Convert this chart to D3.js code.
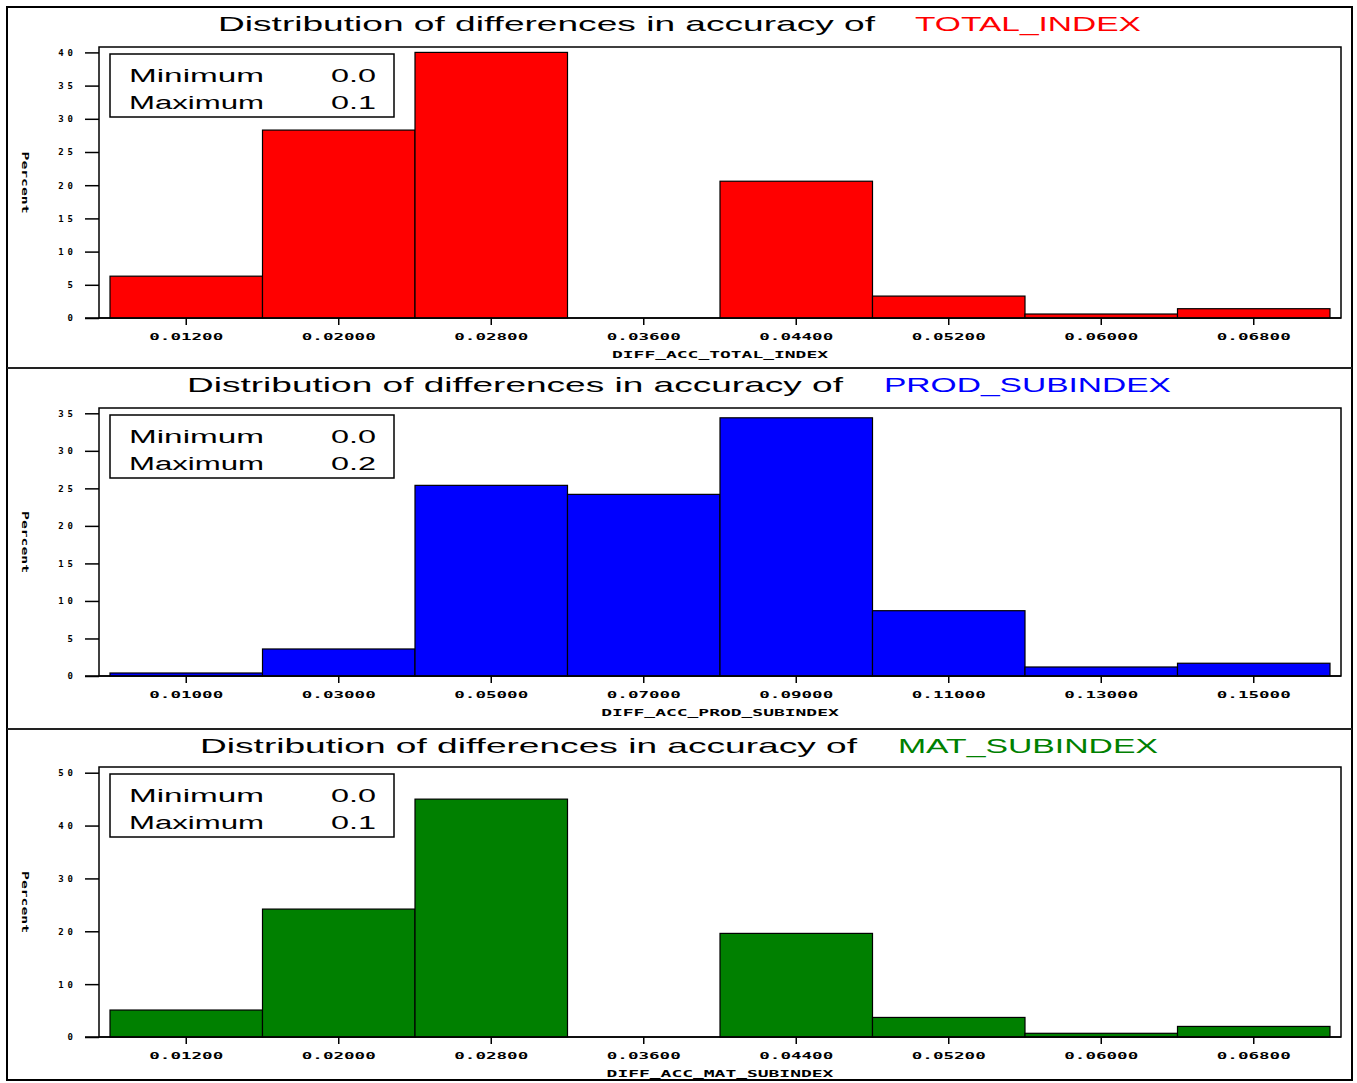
<!DOCTYPE html>
<html>
<head>
<meta charset="utf-8">
<script src="https://cdn.jsdelivr.net/npm/d3@7"></script>
<style>
  html, body { margin: 0; padding: 0; background: #fff; }
  svg { display: block; }
</style>
</head>
<body>
<svg id="chart" width="1357" height="1083"></svg>
<script>
// Histogram bin midpoints (x tick labels) for each variable
const totalMidpoints = ["0.01200", "0.02000", "0.02800", "0.03600", "0.04400", "0.05200", "0.06000", "0.06800"];
const prodMidpoints  = ["0.01000", "0.03000", "0.05000", "0.07000", "0.09000", "0.11000", "0.13000", "0.15000"];
const matMidpoints   = ["0.01200", "0.02000", "0.02800", "0.03600", "0.04400", "0.05200", "0.06000", "0.06800"];

// Percent of observations in each bin
const totalPercent = [6.3, 28.3, 40.0, 0, 20.6, 3.3, 0.6, 1.4];
const prodPercent  = [0.4, 3.6, 25.4, 24.2, 34.4, 8.7, 1.2, 1.7];
const matPercent   = [5.1, 24.2, 45.0, 0, 19.6, 3.7, 0.7, 2.0];

// Y axis ticks
const totalTicks = [0, 5, 10, 15, 20, 25, 30, 35, 40];
const prodTicks  = [0, 5, 10, 15, 20, 25, 30, 35];
const matTicks   = [0, 10, 20, 30, 40, 50];

// Summary statistics shown in the inset box
const totalStats = [["Minimum", "0.0"], ["Maximum", "0.1"]];
const prodStats  = [["Minimum", "0.0"], ["Maximum", "0.2"]];
const matStats   = [["Minimum", "0.0"], ["Maximum", "0.1"]];

const titleText = "Distribution of differences in accuracy of";
const varNames  = ["TOTAL_INDEX", "PROD_SUBINDEX", "MAT_SUBINDEX"];
const axisNames = ["DIFF_ACC_TOTAL_INDEX", "DIFF_ACC_PROD_SUBINDEX", "DIFF_ACC_MAT_SUBINDEX"];

const panels = [
  { mids: totalMidpoints, vals: totalPercent, ticks: totalTicks, stats: totalStats,
    name: varNames[0], axis: axisNames[0], color: "#ff0000",
    frameTop: 47, y0: 318, yTopPx: 52.4,
    titleBase: 31, titleX: [218, 657], nameX: [915, 226] },
  { mids: prodMidpoints, vals: prodPercent, ticks: prodTicks, stats: prodStats,
    name: varNames[1], axis: axisNames[1], color: "#0000ff",
    frameTop: 408, y0: 676, yTopPx: 413.3,
    titleBase: 392, titleX: [187, 656], nameX: [884, 287] },
  { mids: matMidpoints, vals: matPercent, ticks: matTicks, stats: matStats,
    name: varNames[2], axis: axisNames[2], color: "#008000",
    frameTop: 767, y0: 1037, yTopPx: 772.7,
    titleBase: 753, titleX: [200, 657], nameX: [898, 260] }
];

const svg = d3.select("#chart");
const frameL = 99, frameR = 1341, barL = 110, barR = 1330;
const smallFont = "'DejaVu Sans Mono', monospace";
const titleFont = "'Liberation Sans', Arial, sans-serif";

// Outer border and panel separators
svg.append("rect").attr("x", 7).attr("y", 7).attr("width", 1345).attr("height", 1073)
  .attr("fill", "none").attr("stroke", "#000").attr("stroke-width", 2);
[368, 729].forEach(y => svg.append("line").attr("x1", 7).attr("x2", 1352)
  .attr("y1", y).attr("y2", y).attr("stroke", "#222").attr("stroke-width", 2));

panels.forEach(p => {
  const g = svg.append("g");
  const x = d3.scaleBand().domain(p.mids).range([barL, barR]).paddingInner(0).paddingOuter(0);
  const yMax = p.ticks[p.ticks.length - 1];
  const y = d3.scaleLinear().domain([0, yMax]).range([p.y0, p.yTopPx]);

  // Title: black lead-in plus coloured variable name
  g.append("text").attr("x", p.titleX[0]).attr("y", p.titleBase)
    .attr("textLength", p.titleX[1]).attr("lengthAdjust", "spacingAndGlyphs")
    .style("font-family", titleFont).style("font-size", "21px").attr("fill", "#000")
    .text(titleText);
  g.append("text").attr("x", p.nameX[0]).attr("y", p.titleBase)
    .attr("textLength", p.nameX[1]).attr("lengthAdjust", "spacingAndGlyphs")
    .style("font-family", titleFont).style("font-size", "21px").attr("fill", p.color)
    .text(p.name);

  // Plot frame
  g.append("rect").attr("x", frameL).attr("y", p.frameTop)
    .attr("width", frameR - frameL).attr("height", p.y0 - p.frameTop)
    .attr("fill", "none").attr("stroke", "#000").attr("stroke-width", 1.5);

  // Bars
  g.selectAll("rect.bar").data(p.vals.map((v, i) => ({ v, k: p.mids[i] })).filter(d => d.v > 0))
    .join("rect").attr("class", "bar")
    .attr("x", d => x(d.k)).attr("width", x.bandwidth())
    .attr("y", d => y(d.v)).attr("height", d => y(0) - y(d.v))
    .attr("fill", p.color).attr("stroke", "#000").attr("stroke-width", 1.2);

  // Y axis
  const yAxis = d3.axisLeft(y).tickValues(p.ticks).tickSize(14).tickPadding(8)
    .tickFormat(d3.format("d"));
  const ya = g.append("g").attr("transform", `translate(${frameL},0)`).call(yAxis);
  ya.select(".domain").remove();
  ya.selectAll(".tick line").attr("stroke", "#000").attr("stroke-width", 1.5);
  ya.selectAll(".tick text").style("font-family", smallFont).style("font-size", "9px")
    .style("font-weight", "bold").style("letter-spacing", "4px").attr("fill", "#000");

  // X axis at the zero line
  const xAxis = d3.axisBottom(x).tickSize(7).tickPadding(9);
  const xa = g.append("g").attr("transform", `translate(0,${p.y0})`).call(xAxis);
  xa.select(".domain").remove();
  xa.selectAll(".tick line").attr("stroke", "#000").attr("stroke-width", 1.5);
  xa.selectAll(".tick text").attr("textLength", 74).attr("lengthAdjust", "spacingAndGlyphs")
    .style("font-family", smallFont).style("font-size", "9px")
    .style("font-weight", "bold").attr("fill", "#000");
  g.append("line").attr("x1", 85).attr("x2", frameR).attr("y1", p.y0).attr("y2", p.y0)
    .attr("stroke", "#000").attr("stroke-width", 1.5);

  // X axis label
  const axLen = p.axis.length * 10.8;
  g.append("text").attr("x", (frameL + frameR) / 2).attr("y", p.y0 + 40)
    .attr("text-anchor", "middle").attr("textLength", axLen).attr("lengthAdjust", "spacingAndGlyphs")
    .style("font-family", smallFont).style("font-size", "9px").style("font-weight", "bold")
    .text(p.axis);

  // Y axis label
  const cy = (p.frameTop + p.y0) / 2;
  g.append("text").attr("transform", `translate(22,${cy}) rotate(90)`)
    .attr("text-anchor", "middle").attr("textLength", 62).attr("lengthAdjust", "spacingAndGlyphs")
    .style("font-family", smallFont).style("font-size", "8px").style("font-weight", "bold")
    .text("Percent");

  // Statistics inset
  const bx = 110, by = p.frameTop + 7, bw = 284, bh = 63;
  g.append("rect").attr("x", bx).attr("y", by).attr("width", bw).attr("height", bh)
    .attr("fill", "#fff").attr("stroke", "#000").attr("stroke-width", 1.5);
  p.stats.forEach((s, i) => {
    const base = by + 28 + i * 27;
    g.append("text").attr("x", 129).attr("y", base)
      .attr("textLength", 135).attr("lengthAdjust", "spacingAndGlyphs")
      .style("font-family", titleFont).style("font-size", "18px").text(s[0]);
    g.append("text").attr("x", 331).attr("y", base)
      .attr("textLength", 45).attr("lengthAdjust", "spacingAndGlyphs")
      .style("font-family", titleFont).style("font-size", "18px").text(s[1]);
  });
});
</script>
</body>
</html>
